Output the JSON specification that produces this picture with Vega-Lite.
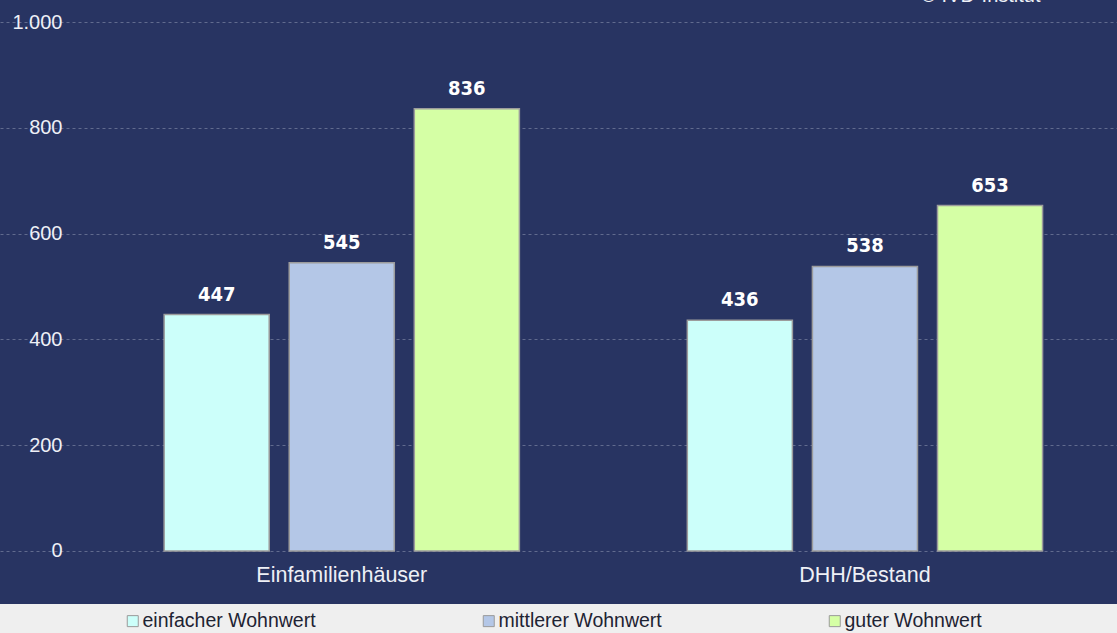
{
  "$schema": "https://vega.github.io/schema/vega-lite/v6.json",
  "width": 1117,
  "height": 604,
  "padding": {"left": 0, "top": 0, "right": 0, "bottom": 29},
  "autosize": {"type": "none"},
  "background": "#efefef",
  "config": {
    "view": {"fill": "#283462", "stroke": null},
    "font": "Liberation Sans"
  },
  "data": {
    "values": [
      {"kategorie": "Einfamilienhäuser", "wohnwert": "einfacher Wohnwert", "preis": 447},
      {"kategorie": "Einfamilienhäuser", "wohnwert": "mittlerer Wohnwert", "preis": 545},
      {"kategorie": "Einfamilienhäuser", "wohnwert": "guter Wohnwert", "preis": 836},
      {"kategorie": "DHH/Bestand", "wohnwert": "einfacher Wohnwert", "preis": 436},
      {"kategorie": "DHH/Bestand", "wohnwert": "mittlerer Wohnwert", "preis": 538},
      {"kategorie": "DHH/Bestand", "wohnwert": "guter Wohnwert", "preis": 653}
    ]
  },
  "encoding": {
    "x": {
      "field": "kategorie",
      "type": "nominal",
      "sort": ["Einfamilienhäuser", "DHH/Bestand"],
      "scale": {"paddingInner": 0.321, "paddingOuter": 0.228, "align": 0.688},
      "axis": {
        "title": null,
        "orient": "bottom",
        "domain": false,
        "ticks": false,
        "labelAngle": 0,
        "labelPadding": -40,
        "labelColor": "#eef0f6",
        "labelFont": "Liberation Sans",
        "labelFontSize": 21.5
      }
    },
    "xOffset": {
      "field": "wohnwert",
      "type": "nominal",
      "sort": ["einfacher Wohnwert", "mittlerer Wohnwert", "guter Wohnwert"],
      "scale": {"paddingInner": 0.16, "paddingOuter": 0}
    },
    "y": {
      "field": "preis",
      "type": "quantitative",
      "scale": {"domain": [-100.2, 1041.6], "nice": false, "zero": false},
      "axis": {
        "values": [0, 200, 400, 600, 800, 1000],
        "labelExpr": "replace(format(datum.value, ','), ',', '.')",
        "domain": false,
        "ticks": false,
        "grid": true,
        "gridColor": "#7f89a6",
        "gridDash": [3, 3],
        "gridOpacity": 0.65,
        "gridWidth": 1,
        "labelPadding": -62,
        "labelColor": "#eef0f6",
        "labelFont": "Liberation Sans",
        "labelFontSize": 20,
        "title": "© IVD-Institut",
        "titleAngle": 0,
        "titleX": 1040,
        "titleY": 1.5,
        "titleAlign": "right",
        "titleBaseline": "alphabetic",
        "titleColor": "#eef0f6",
        "titleFont": "Liberation Sans",
        "titleFontSize": 20,
        "titleFontWeight": "normal"
      }
    }
  },
  "layer": [
    {
      "mark": {"type": "bar", "stroke": "#9c9c9c", "strokeWidth": 1.5},
      "encoding": {
        "color": {
          "field": "wohnwert",
          "type": "nominal",
          "sort": ["einfacher Wohnwert", "mittlerer Wohnwert", "guter Wohnwert"],
          "scale": {
            "domain": ["einfacher Wohnwert", "mittlerer Wohnwert", "guter Wohnwert"],
            "range": ["#ccfffa", "#b4c7e7", "#d5ffa5"]
          },
          "legend": {
            "title": null,
            "orient": "none",
            "direction": "horizontal",
            "legendX": 123,
            "legendY": 611,
            "symbolType": "square",
            "symbolSize": 121,
            "symbolStrokeColor": "#9a9a9a",
            "symbolStrokeWidth": 1,
            "symbolOpacity": 1,
            "labelFont": "Liberation Sans",
            "labelFontSize": 19.5,
            "labelColor": "#1e2333",
            "labelOffset": 0,
            "labelLimit": 300,
            "columnPadding": 163,
            "padding": 0
          }
        }
      }
    },
    {
      "mark": {
        "type": "text",
        "baseline": "bottom",
        "dy": -10,
        "font": "DejaVu Sans Condensed, Liberation Sans",
        "fontWeight": "bold",
        "fontSize": 20,
        "color": "#ffffff"
      },
      "encoding": {
        "text": {"field": "preis", "type": "quantitative"}
      }
    }
  ]
}
